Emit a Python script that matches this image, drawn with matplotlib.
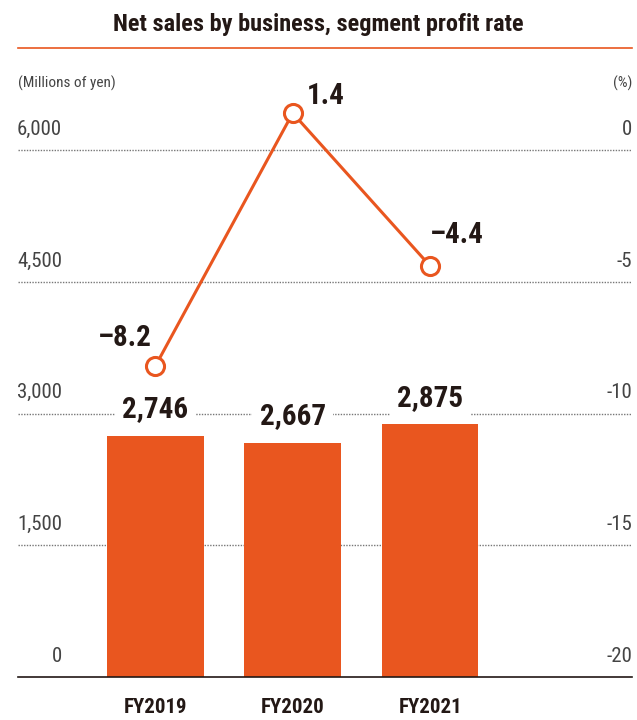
import matplotlib.pyplot as plt
from matplotlib import font_manager

years = ["FY2019", "FY2020", "FY2021"]
net_sales = [2746, 2667, 2875]
profit_rate = [-8.2, 1.4, -4.4]
left_ticks = [0, 1500, 3000, 4500, 6000]
right_ticks = [-20, -15, -10, -5, 0]

names = {f.name for f in font_manager.fontManager.ttflist}
fam = [n for n in ["Liberation Sans Narrow", "Roboto Condensed", "Roboto"] if n in names] + ["DejaVu Sans"]
plt.rcParams["font.family"] = fam

orange = "#E9561F"
dark = "#231815"
grey = "#444444"

fig = plt.figure(figsize=(6.37, 7.2), dpi=100)
# axes spans from baseline (y=677) to y=60 px
k = (677 - 60) / (677 - 150)
ax = fig.add_axes([18 / 637, 43 / 720, 614 / 637, 617 / 720])
ax.set_xlim(-1.0, 3.47)
ax.set_ylim(0, 6000 * k)
ax2 = ax.twinx()
ax2.set_ylim(-20, -20 + 20 * k)

for a in (ax, ax2):
    for s in a.spines.values():
        s.set_visible(False)
    a.set_yticks([])
ax.spines["bottom"].set_visible(True)
ax.spines["bottom"].set_color(dark)
ax.spines["bottom"].set_linewidth(1.2)

x = list(range(len(years)))
ax.set_xticks(x, years)
ax.tick_params(axis="x", length=0, pad=15, labelsize=15, labelcolor=dark)
for lbl in ax.get_xticklabels():
    lbl.set_fontweight("bold")

# gridlines + tick labels
for t in left_ticks[1:]:
    ax.axhline(t, color="#777777", lw=1, ls=(0, (1, 1)), zorder=1)
for t in left_ticks:
    ax.annotate(f"{t:,}", (62 / 637, t), xycoords=("figure fraction", "data"),
                xytext=(0, 8), textcoords="offset points", ha="right", va="bottom",
                fontsize=15, color=grey)
for t in right_ticks:
    ax2.annotate(f"{t}", (632 / 637, t), xycoords=("figure fraction", "data"),
                 xytext=(0, 8), textcoords="offset points", ha="right", va="bottom",
                 fontsize=15, color=grey)

bars = ax.bar(x, net_sales, width=0.705, color=orange, zorder=2)
for xi, v in zip(x, net_sales):
    ax.annotate(f"{v:,}", (xi, v), xytext=(0, 9), textcoords="offset points",
                ha="center", va="bottom", fontsize=21, fontweight="bold", color=dark,
                bbox=dict(boxstyle="square,pad=0.25", fc="white", ec="none"), zorder=3)

ax2.plot(x, profit_rate, color=orange, lw=2.2, marker="o", markersize=13,
         markerfacecolor="white", markeredgecolor=orange, markeredgewidth=2.2, zorder=4)
offsets = [(-22, 10), (10, 2), (0, 12)]
has = ["center", "left", "left"]
for xi, v, off, h in zip(x, profit_rate, offsets, has):
    ax2.annotate(f"{v}".replace("-", "\u2013"), (xi, v), xytext=off, textcoords="offset points",
                 ha=h, va="bottom", fontsize=21, fontweight="bold", color=dark)

fig.text(0.5, 1 - 25 / 720, "Net sales by business, segment profit rate", ha="center",
         va="center", fontsize=17.5, fontweight="bold", color=dark)
fig.add_artist(plt.Line2D([18 / 637, 632 / 637], [1 - 48 / 720] * 2, color=orange, lw=1.2))
fig.text(18 / 637, 1 - 83 / 720, "(Millions of yen)", ha="left", va="center", fontsize=11, color=grey)
fig.text(632 / 637, 1 - 83 / 720, "(%)", ha="right", va="center", fontsize=11, color=grey)

fig.savefig("out.png", dpi=100)
